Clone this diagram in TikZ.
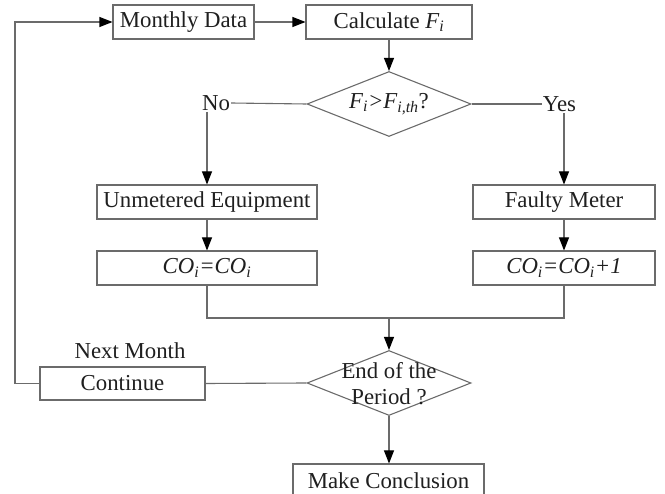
\documentclass[tikz,border=0pt]{standalone}
\usepackage{fontspec}
\setmainfont{Liberation Serif}
\usetikzlibrary{arrows.meta,shapes.geometric}

\tikzset{
  flowline/.style={draw=black!58, line width=1.1pt},
  arr/.style={flowline, -{Triangle[length=13pt,width=10pt,color=black]}},
  procbox/.style={rectangle, draw=black!58, line width=1.1pt, fill=white,
    inner sep=0pt, text=black!88},
  decision/.style={diamond, draw=black!58, line width=1.1pt, inner sep=0pt},
  lbl/.style={inner sep=1pt, text=black!88},
}

\begin{document}
\begin{tikzpicture}[x=1pt, y=-1pt,
  every node/.append style={font=\fontsize{22.8}{28}\selectfont}]
  \useasboundingbox (0,0) rectangle (665,494);
  \clip (0,0) rectangle (665,494);

  % top row
  \node[procbox, minimum width=141pt, minimum height=34pt] (md) at (183.5,22) {Monthly Data};
  \node[procbox, minimum width=166pt, minimum height=34pt] (calc) at (389,22) {Calculate \textit{F\textsubscript{i}}};

  % first decision
  \node[decision, minimum width=164pt, minimum height=65pt] (d1) at (389,104) {};
  \node[lbl] (d1t) at (389,104) {\textit{F\textsubscript{i}>F\textsubscript{i,th}}?};
  \node[lbl] (no) at (216,103) {No};
  \node[lbl] (yes) at (559.5,104) {Yes};

  % branches
  \node[procbox, minimum width=220pt, minimum height=34pt] (um) at (207,202) {Unmetered Equipment};
  \node[procbox, minimum width=220pt, minimum height=34pt] (co1) at (207,268) {\textit{CO\textsubscript{i}=CO\textsubscript{i}}};
  \node[procbox, minimum width=182pt, minimum height=34pt] (fm) at (564,202) {Faulty Meter};
  \node[procbox, minimum width=182pt, minimum height=34pt] (co2) at (564,268) {\textit{CO\textsubscript{i}=CO\textsubscript{i}+1}};

  \coordinate (merge) at (389,318);

  % second decision
  \node[decision, minimum width=164pt, minimum height=65pt] (d2) at (389,383) {};
  \node[lbl, align=center] (d2t) at (389,383.5) {End of the\\[-2pt]Period ?};

  \node[procbox, minimum width=165pt, minimum height=33pt] (cont) at (122.5,383.5) {Continue};
  \node[lbl] (next) at (130,351) {Next Month};
  \node[procbox, minimum width=191pt, minimum height=34pt] (mc) at (388.5,481) {Make Conclusion};

  \coordinate (loop) at (15,383.5);

  % connectors
  \draw[arr] (md.east) -- (calc.west);
  \draw[arr] (calc.south) -- (d1.north);
  \draw[flowline] (d1.west) -- (no.east);
  \draw[flowline] (d1.east) -- (yes.west);
  \draw[arr] (um.north |- no.south) -- (um.north);
  \draw[arr] (fm.north |- yes.south) -- (fm.north);
  \draw[arr] (um.south) -- (co1.north);
  \draw[arr] (fm.south) -- (co2.north);
  \draw[flowline] (co1.south) |- (merge) -| (co2.south);
  \draw[arr] (merge) -- (d2.north);
  \draw[flowline] (d2.west) -- (cont.east);
  \draw[arr] (d2.south) -- (d2.south |- mc.north);
  \draw[arr] (cont.west) -- (loop) |- (md.west);
\end{tikzpicture}
\end{document}
